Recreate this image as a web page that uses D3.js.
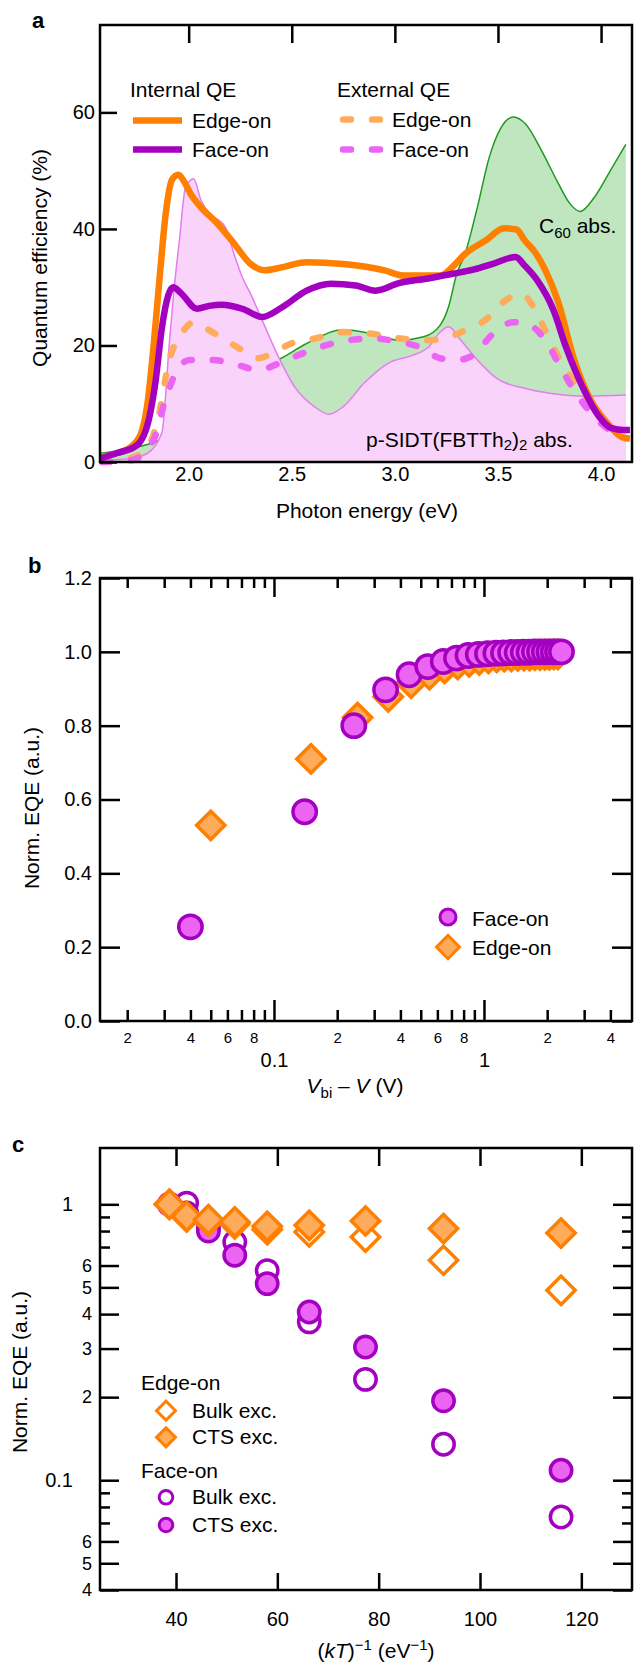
<!DOCTYPE html>
<html>
<head>
<meta charset="utf-8">
<script src="https://cdn.jsdelivr.net/npm/d3@7"></script>
<style>
  body { margin: 0; background: #fff; }
  text { font-family: "Liberation Sans", Arial, Helvetica, sans-serif; fill: #000; }
</style>
</head>
<body>
<div id="chart"></div>
<script>
// ---- panel a : quantum efficiency spectra ----
var eIntEdge = [1.57, 1.65, 1.72, 1.77, 1.80, 1.83, 1.86, 1.89, 1.92, 1.95, 1.98, 2.01, 2.06, 2.14, 2.22, 2.30, 2.37, 2.45, 2.57, 2.75, 2.95, 3.04, 3.22, 3.28, 3.34, 3.44, 3.53, 3.59, 3.63, 3.68, 3.73, 3.79, 3.87, 3.95, 4.03, 4.10, 4.14];
var qeIntEdge = [0.8, 1.5, 2.6, 5, 10, 20, 32, 43, 48.5, 49.3, 48, 46, 43.7, 40.9, 37.5, 34, 32.9, 33.4, 34.3, 34, 32.9, 32, 32, 33.5, 35.7, 38, 40.1, 39.9, 38, 36, 32.9, 27.7, 17.5, 10.6, 6.7, 4.3, 4.0];

var eIntFace = [1.57, 1.65, 1.75, 1.81, 1.84, 1.87, 1.90, 1.925, 1.965, 2.04, 2.10, 2.16, 2.26, 2.357, 2.455, 2.572, 2.69, 2.81, 2.907, 3.02, 3.16, 3.28, 3.38, 3.475, 3.585, 3.63, 3.69, 3.77, 3.83, 3.91, 3.99, 4.05, 4.11, 4.14];
var qeIntFace = [0.6, 1.5, 2.9, 7.8, 14, 23, 28.5, 30, 28.9, 26.3, 26.8, 27, 26.3, 24.9, 26.6, 29.4, 30.6, 30.3, 29.4, 30.7, 31.5, 32.3, 33.0, 34, 35.2, 33.7, 31.2, 26, 19.7, 12.9, 7.8, 5.8, 5.5, 5.5];

var eExtEdge = [1.58, 1.70, 1.79, 1.85, 1.906, 1.965, 2.024, 2.10, 2.18, 2.26, 2.338, 2.417, 2.495, 2.613, 2.75, 2.888, 3.024, 3.162, 3.24, 3.34, 3.436, 3.535, 3.61, 3.673, 3.75, 3.83, 3.907, 3.987, 4.065, 4.12];
var qeExtEdge = [0, 0.5, 2, 7.2, 17.5, 22, 24, 22.6, 20.9, 19.2, 17.8, 18.9, 20.3, 21.2, 22.3, 22, 21.2, 20.9, 21.2, 22.6, 24.3, 27.7, 28.9, 26.6, 20.9, 15.8, 11.8, 7.8, 5.5, 4.1];

var eExtFace = [1.58, 1.72, 1.83, 1.886, 1.945, 2.004, 2.12, 2.24, 2.338, 2.455, 2.572, 2.73, 2.888, 3.024, 3.123, 3.22, 3.30, 3.378, 3.476, 3.575, 3.653, 3.73, 3.81, 3.89, 3.967, 4.045, 4.12];
var qeExtFace = [0, 0.3, 3.8, 10.6, 15.8, 17.5, 17.5, 16.6, 15.8, 17.2, 18.9, 20.6, 21.2, 20.6, 19.7, 17.8, 17.5, 18.3, 22, 24, 23.5, 20.9, 15.8, 11.2, 7.8, 5.5, 5];

var eC60 = [1.57, 1.65, 1.72, 1.80, 1.87, 1.93, 2.00, 2.10, 2.25, 2.43, 2.57, 2.75, 2.89, 3.02, 3.14, 3.22, 3.26, 3.30, 3.34, 3.40, 3.457, 3.515, 3.575, 3.634, 3.712, 3.79, 3.85, 3.898, 3.967, 4.045, 4.12];
var absC60 = [1.5, 1.9, 2.4, 3.0, 4.0, 6.5, 10, 13.5, 16, 17.5, 20.3, 22.7, 22, 20.9, 21.5, 23.5, 26.6, 32.3, 35.7, 43.7, 52.2, 57.4, 59.2, 58, 53.4, 48, 44.3, 43, 45.4, 50, 54.5];

var eDonor = [1.57, 1.70, 1.80, 1.87, 1.906, 1.93, 1.955, 1.984, 2.024, 2.06, 2.10, 2.15, 2.18, 2.22, 2.26, 2.30, 2.357, 2.436, 2.514, 2.61, 2.68, 2.75, 2.85, 2.965, 3.084, 3.162, 3.22, 3.26, 3.32, 3.40, 3.496, 3.634, 3.75, 3.93, 4.12];
var absDonor = [0.3, 0.5, 1.5, 5, 20.3, 30, 38, 47, 48.6, 44.9, 42.6, 41.4, 40.2, 35.7, 31.7, 28.9, 24.3, 18, 12.9, 9.5, 8.2, 9.5, 13.5, 16.9, 18.3, 19.7, 22.3, 23.2, 20.9, 17.5, 14.3, 12.6, 11.8, 11.3, 11.5];

var ticksA = [2.0, 2.5, 3.0, 3.5, 4.0];
var yTicksA = [0, 20, 40, 60];

// ---- panel b : field dependence ----
var vFace = [0.04, 0.14, 0.24, 0.34, 0.44, 0.54, 0.64, 0.74, 0.84, 0.94, 1.04, 1.14, 1.24, 1.34, 1.44, 1.54, 1.64, 1.74, 1.84, 1.94, 2.04, 2.14, 2.24, 2.34];
var eqeFace = [0.255, 0.567, 0.80, 0.897, 0.938, 0.960, 0.974, 0.983, 0.990, 0.993, 0.995, 0.996, 0.997, 0.998, 0.998, 0.999, 0.999, 1.0, 1.0, 1.0, 1.0, 1.0, 1.0, 1.0];
var vEdge = [0.05, 0.15, 0.25, 0.35, 0.45, 0.55, 0.65, 0.75, 0.85, 0.95, 1.05, 1.15, 1.25, 1.35, 1.45, 1.55, 1.65, 1.75, 1.85, 1.95, 2.05, 2.15, 2.25];
var eqeEdge = [0.53, 0.71, 0.822, 0.878, 0.915, 0.938, 0.955, 0.966, 0.973, 0.978, 0.982, 0.985, 0.987, 0.988, 0.989, 0.990, 0.990, 0.991, 0.991, 0.992, 0.992, 0.993, 0.993];

var minorB = [0.02, 0.03, 0.04, 0.05, 0.06, 0.07, 0.08, 0.09, 0.2, 0.3, 0.4, 0.5, 0.6, 0.7, 0.8, 0.9, 2, 3, 4];
var minorLabelB = [0.02, 0.04, 0.06, 0.08, 0.2, 0.4, 0.6, 0.8, 2, 4];
var majorB = [0.1, 1];
var yTicksB = [0, 0.2, 0.4, 0.6, 0.8, 1.0, 1.2];

// ---- panel c : temperature dependence ----
var invKT = [38.7, 42.1, 46.4, 51.6, 58.0, 66.3, 77.4, 92.8, 116.0];
var edgeBulk = [1.0, 0.90, 0.87, 0.85, 0.81, 0.794, 0.761, 0.627, 0.488];
var edgeCTS = [1.0, 0.905, 0.88, 0.863, 0.832, 0.839, 0.87, 0.817, 0.787];
var faceBulk = [1.0, 1.01, 0.82, 0.73, 0.575, 0.375, 0.232, 0.135, 0.0736];
var faceCTS = [1.0, 0.93, 0.80, 0.654, 0.516, 0.407, 0.304, 0.194, 0.1087];

var xTicksC = [40, 60, 80, 100, 120];
var majorC = [1, 0.1];
var labelMinorC = [0.6, 0.5, 0.4, 0.3, 0.2, 0.06, 0.05, 0.04];
var minorC = [0.9, 0.8, 0.7, 0.09, 0.08, 0.07];

// colours
var orange = '#ff7f00', purple = '#a400c0';
var lightOrange = '#ffab5c', magenta = '#ec64f4';
var greenFill = '#bfe6bf', greenLine = '#1f9a1f';
var pinkFill = '#f9d3f9', pinkLine = '#e57cf0';
var FONT = '"Liberation Sans", Arial, Helvetica, sans-serif';

var svg = d3.select('#chart').append('svg')
  .attr('width', 634)
  .attr('height', 1664);

var L = 100, R = 632;

function styleAxis(g, fs) {
  g.attr('font-family', FONT).attr('font-size', fs);
  g.select('.domain').remove();
  g.selectAll('line').attr('stroke', '#000').attr('stroke-width', 2.5);
  g.selectAll('text').attr('fill', '#000');
  return g;
}

function frame(top, bottom) {
  svg.append('rect')
    .attr('x', L).attr('y', top)
    .attr('width', R - L).attr('height', bottom - top)
    .attr('fill', 'none').attr('stroke', '#000').attr('stroke-width', 2.5);
}

function leadDigit(d) {
  return Math.round(d / Math.pow(10, Math.floor(Math.log10(d) + 1e-9)));
}

function label(x, y, txt, size, weight) {
  return svg.append('text').attr('x', x).attr('y', y)
    .attr('font-size', size).attr('font-weight', weight || 'normal')
    .text(txt);
}

// ================= panel a =================
var xA = d3.scaleLinear().domain([1.57, 4.15]).range([L, R]);
var yA = d3.scaleLinear().domain([0, 75]).range([462, 25]);

var areaA = d3.area().curve(d3.curveMonotoneX)
  .x(function (d) { return xA(d[0]); })
  .y0(yA(0))
  .y1(function (d) { return yA(d[1]); });
var lineA = d3.line().curve(d3.curveMonotoneX)
  .x(function (d) { return xA(d[0]); })
  .y(function (d) { return yA(d[1]); });

var gA = svg.append('g');

gA.append('path').datum(d3.zip(eC60, absC60)).attr('d', areaA).attr('fill', greenFill);
gA.append('path').datum(d3.zip(eC60, absC60)).attr('d', lineA)
  .attr('fill', 'none').attr('stroke', greenLine).attr('stroke-width', 1.5);
gA.append('path').datum(d3.zip(eDonor, absDonor)).attr('d', areaA).attr('fill', pinkFill);
gA.append('path').datum(d3.zip(eDonor, absDonor)).attr('d', lineA)
  .attr('fill', 'none').attr('stroke', pinkLine).attr('stroke-width', 1.5);

// dashed = external QE, solid = internal QE
var series = [
  { e: eExtEdge, q: qeExtEdge, c: lightOrange, dash: true },
  { e: eExtFace, q: qeExtFace, c: magenta, dash: true },
  { e: eIntEdge, q: qeIntEdge, c: orange, dash: false },
  { e: eIntFace, q: qeIntFace, c: purple, dash: false }
];

series.forEach(function (s) {
  var p = gA.append('path').datum(d3.zip(s.e, s.q)).attr('d', lineA)
    .attr('fill', 'none').attr('stroke', s.c).attr('stroke-width', 6.5)
    .attr('stroke-linejoin', 'round');
  if (s.dash) p.attr('stroke-dasharray', '8 21').attr('stroke-linecap', 'round');
});

styleAxis(svg.append('g').attr('transform', 'translate(0,25)')
  .call(d3.axisTop(xA).tickValues(ticksA).tickSize(-18).tickFormat('')), 20);
styleAxis(svg.append('g').attr('transform', 'translate(0,462)')
  .call(d3.axisBottom(xA).tickValues(ticksA).tickSize(0).tickPadding(5).tickFormat(d3.format('.1f'))), 20);
styleAxis(svg.append('g').attr('transform', 'translate(' + L + ',0)')
  .call(d3.axisLeft(yA).tickValues(yTicksA).tickSize(-17).tickPadding(5)), 20);
frame(25, 462);

// legend a
label(130, 97, 'Internal QE', 21);
label(337, 97, 'External QE', 21);
var legA = [
  { x: 133, y: 120.5, c: orange, dash: false, t: 'Edge-on' },
  { x: 133, y: 149.5, c: purple, dash: false, t: 'Face-on' },
  { x: 339, y: 119.5, c: lightOrange, dash: true, t: 'Edge-on' },
  { x: 339, y: 149.5, c: magenta, dash: true, t: 'Face-on' }
];
legA.forEach(function (d) {
  var ln = svg.append('line').attr('x1', d.dash ? d.x + 4 : d.x).attr('x2', d.x + 49)
    .attr('y1', d.y).attr('y2', d.y)
    .attr('stroke', d.c).attr('stroke-width', 6.5);
  if (d.dash) ln.attr('stroke-dasharray', '8 21').attr('stroke-linecap', 'round');
  label(d.dash ? 392 : 192, d.y + 7, d.t, 21);
});

var c60 = svg.append('text').attr('x', 539).attr('y', 233).attr('font-size', 21);
c60.append('tspan').text('C');
c60.append('tspan').attr('font-size', 15).attr('dy', 5).text('60');
c60.append('tspan').attr('dy', -5).text(' abs.');

var don = svg.append('text').attr('x', 366).attr('y', 447).attr('font-size', 21);
don.append('tspan').text('p-SIDT(FBTTh');
don.append('tspan').attr('font-size', 15).attr('dy', 3).text('2');
don.append('tspan').attr('dy', -3).text(')');
don.append('tspan').attr('font-size', 15).attr('dy', 3).text('2');
don.append('tspan').attr('dy', -3).text(' abs.');

label(367, 518, 'Photon energy (eV)', 21).attr('text-anchor', 'middle');
label(0, 0, 'Quantum efficiency (%)', 21).attr('text-anchor', 'middle')
  .attr('transform', 'translate(47,258) rotate(-90)');
label(32, 28, 'a', 22, 'bold');

// ================= panel b =================
var xB = d3.scaleLog().domain([0.01484, 5.07]).range([L, R]);
var yB = d3.scaleLinear().domain([0, 1.2]).range([1021, 578]);
var gB = svg.append('g');

var diamondB = d3.symbol().type(d3.symbolSquare).size(400);
gB.selectAll('.edgeB').data(d3.zip(vEdge, eqeEdge)).enter()
  .append('path').attr('class', 'edgeB')
  .attr('d', diamondB)
  .attr('transform', function (d) { return 'translate(' + xB(d[0]) + ',' + yB(d[1]) + ') rotate(45)'; })
  .attr('fill', lightOrange).attr('stroke', orange).attr('stroke-width', 3.5);
gB.selectAll('.faceB').data(d3.zip(vFace, eqeFace)).enter()
  .append('circle').attr('class', 'faceB')
  .attr('cx', function (d) { return xB(d[0]); })
  .attr('cy', function (d) { return yB(d[1]); })
  .attr('r', 11.7)
  .attr('fill', magenta).attr('stroke', purple).attr('stroke-width', 3.5);

styleAxis(svg.append('g').attr('transform', 'translate(' + L + ',0)')
  .call(d3.axisLeft(yB).tickValues(yTicksB).tickSize(-20).tickPadding(8).tickFormat(d3.format('.1f'))), 20);
styleAxis(svg.append('g').attr('transform', 'translate(' + R + ',0)')
  .call(d3.axisRight(yB).tickValues(yTicksB).tickSize(-20).tickFormat('')), 20);
styleAxis(svg.append('g').attr('transform', 'translate(0,1021)')
  .call(d3.axisBottom(xB).tickValues(minorB).tickSize(-11).tickFormat('')), 20);
styleAxis(svg.append('g').attr('transform', 'translate(0,1021)')
  .call(d3.axisBottom(xB).tickValues(majorB).tickSize(-21).tickFormat('')), 20);
styleAxis(svg.append('g').attr('transform', 'translate(0,578)')
  .call(d3.axisTop(xB).tickValues(minorB).tickSize(-10).tickFormat('')), 20);
styleAxis(svg.append('g').attr('transform', 'translate(0,578)')
  .call(d3.axisTop(xB).tickValues(majorB).tickSize(-19).tickFormat('')), 20);
styleAxis(svg.append('g').attr('transform', 'translate(0,1021)')
  .call(d3.axisBottom(xB).tickValues(minorLabelB).tickSize(0).tickPadding(11).tickFormat(leadDigit)), 15);
styleAxis(svg.append('g').attr('transform', 'translate(0,1021)')
  .call(d3.axisBottom(xB).tickValues(majorB).tickSize(0).tickPadding(32).tickFormat(d3.format('~g'))), 20);
frame(578, 1021);

// legend b
svg.append('circle').attr('cx', 448).attr('cy', 917).attr('r', 8)
  .attr('fill', magenta).attr('stroke', purple).attr('stroke-width', 3);
label(472, 926, 'Face-on', 21);
svg.append('path').attr('d', d3.symbol().type(d3.symbolSquare).size(265))
  .attr('transform', 'translate(448,947) rotate(45)')
  .attr('fill', lightOrange).attr('stroke', orange).attr('stroke-width', 3);
label(472, 955, 'Edge-on', 21);

var tb = svg.append('text').attr('x', 355).attr('y', 1093).attr('font-size', 21).attr('text-anchor', 'middle');
tb.append('tspan').attr('font-style', 'italic').text('V');
tb.append('tspan').attr('font-size', 15).attr('dy', 5).text('bi');
tb.append('tspan').attr('dy', -5).text(' \u2013 ');
tb.append('tspan').attr('font-style', 'italic').text('V');
tb.append('tspan').text(' (V)');
label(0, 0, 'Norm. EQE (a.u.)', 21).attr('text-anchor', 'middle')
  .attr('transform', 'translate(39,808) rotate(-90)');
label(28, 573, 'b', 22, 'bold');

// ================= panel c =================
var xC = d3.scaleLinear().domain([25, 130]).range([L, R]);
var yC = d3.scaleLog().domain([0.04, 1.6]).range([1590, 1148]);
var gC = svg.append('g');

function circlesC(vals, fill) {
  gC.selectAll(null).data(d3.zip(invKT, vals)).enter()
    .append('circle')
    .attr('cx', function (d) { return xC(d[0]); })
    .attr('cy', function (d) { return yC(d[1]); })
    .attr('r', 10.7)
    .attr('fill', fill).attr('stroke', purple).attr('stroke-width', 3.5);
}
function diamondsC(vals, fill) {
  gC.selectAll(null).data(d3.zip(invKT, vals)).enter()
    .append('path')
    .attr('d', d3.symbol().type(d3.symbolSquare).size(400))
    .attr('transform', function (d) { return 'translate(' + xC(d[0]) + ',' + yC(d[1]) + ') rotate(45)'; })
    .attr('fill', fill).attr('stroke', orange).attr('stroke-width', 3.5);
}
circlesC(faceBulk, '#fff');
circlesC(faceCTS, magenta);
diamondsC(edgeBulk, '#fff');
diamondsC(edgeCTS, lightOrange);

styleAxis(svg.append('g').attr('transform', 'translate(0,1148)')
  .call(d3.axisTop(xC).tickValues(xTicksC).tickSize(-18).tickFormat('')), 20);
styleAxis(svg.append('g').attr('transform', 'translate(0,1590)')
  .call(d3.axisBottom(xC).tickValues(xTicksC).tickSize(-17).tickPadding(22)), 20);
styleAxis(svg.append('g').attr('transform', 'translate(' + L + ',0)')
  .call(d3.axisLeft(yC).tickValues(majorC).tickSize(-19).tickPadding(27).tickFormat(d3.format('~g'))), 20);
styleAxis(svg.append('g').attr('transform', 'translate(' + L + ',0)')
  .call(d3.axisLeft(yC).tickValues(labelMinorC).tickSize(-19).tickPadding(8).tickFormat(leadDigit)), 18);
styleAxis(svg.append('g').attr('transform', 'translate(' + L + ',0)')
  .call(d3.axisLeft(yC).tickValues(minorC).tickSize(-10).tickFormat('')), 18);
styleAxis(svg.append('g').attr('transform', 'translate(' + R + ',0)')
  .call(d3.axisRight(yC).tickValues(majorC.concat(labelMinorC)).tickSize(-19).tickFormat('')), 18);
styleAxis(svg.append('g').attr('transform', 'translate(' + R + ',0)')
  .call(d3.axisRight(yC).tickValues(minorC).tickSize(-10).tickFormat('')), 18);
frame(1148, 1590);

// legend c
label(141, 1390, 'Edge-on', 21);
label(141, 1478, 'Face-on', 21);
var legC = [
  { y: 1410.7, shape: 'd', fill: '#fff', t: 'Bulk exc.' },
  { y: 1437.3, shape: 'd', fill: lightOrange, t: 'CTS exc.' },
  { y: 1497.3, shape: 'c', fill: '#fff', t: 'Bulk exc.' },
  { y: 1525, shape: 'c', fill: magenta, t: 'CTS exc.' }
];
legC.forEach(function (d) {
  if (d.shape === 'd') {
    svg.append('path').attr('d', d3.symbol().type(d3.symbolSquare).size(180))
      .attr('transform', 'translate(166,' + d.y + ') rotate(45)')
      .attr('fill', d.fill).attr('stroke', orange).attr('stroke-width', 3);
  } else {
    svg.append('circle').attr('cx', 166).attr('cy', d.y).attr('r', 6.8)
      .attr('fill', d.fill).attr('stroke', purple).attr('stroke-width', 3);
  }
  label(192, d.y + 7, d.t, 21);
});

var tc = svg.append('text').attr('x', 376).attr('y', 1658).attr('font-size', 21).attr('text-anchor', 'middle');
tc.append('tspan').text('(');
tc.append('tspan').attr('font-style', 'italic').text('kT');
tc.append('tspan').text(')');
tc.append('tspan').attr('font-size', 15).attr('dy', -8).text('\u22121');
tc.append('tspan').attr('dy', 8).text(' (eV');
tc.append('tspan').attr('font-size', 15).attr('dy', -8).text('\u22121');
tc.append('tspan').attr('dy', 8).text(')');
label(0, 0, 'Norm. EQE (a.u.)', 21).attr('text-anchor', 'middle')
  .attr('transform', 'translate(27,1372) rotate(-90)');
label(12, 1152, 'c', 22, 'bold');
</script>
</body>
</html>
